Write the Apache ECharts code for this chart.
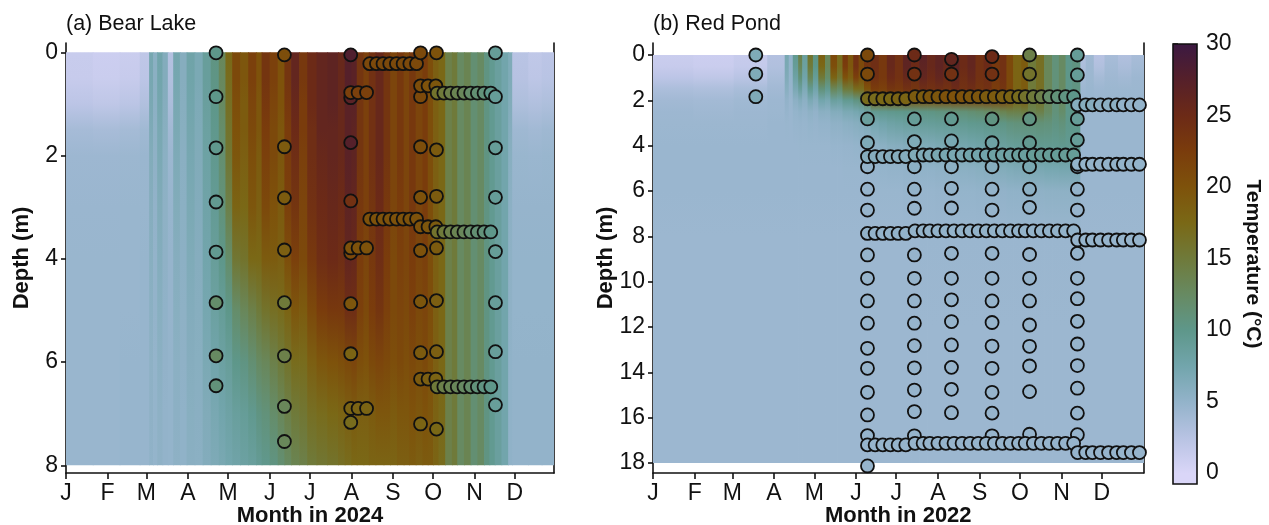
<!DOCTYPE html>
<html><head><meta charset="utf-8">
<script src="https://cdn.jsdelivr.net/npm/echarts@6/dist/echarts.min.js"></script>
<style>html,body{margin:0;padding:0;background:#fff}#c{width:1269px;height:525px}</style>
</head><body><div id="c"></div>
<script>
// ---------- axis / tick data ----------
const monthStartsA = [0,31,60,91,121,152,182,213,244,274,305,335];   // 2024
const monthStartsB = [0,31,59,90,120,151,181,212,243,273,304,334];   // 2022
const monthLetters = ['J','F','M','A','M','J','J','A','S','O','N','D'];
const depthTicksA = [0,2,4,6,8];
const depthTicksB = [0,2,4,6,8,10,12,14,16,18];
const tempTicks = [0,5,10,15,20,25,30];

// ---------- Bear Lake temperature field (columns start day, profile at aDepths) ----------
const aDepths = [0,0.5,1,1.5,2,3,4,5,6,7,8];
const aColDays = [0,20,40,55,62,65,68,72,76,80,85,90,96,102,108,114,119,124,130,136,142,146,152,158,163,168,174,180,187,195,203,208,213,217,222,226,231,237,242,247,252,256,261,266,270,274,278,283,288,292,297,302,307,312,316,320,325,330,333,345,355];
const aProfiles = [
[1.3,1.4,2.2,3.7,4.3,4.5,4.6,4.6,4.6,4.6,4.6],
[1.0,1.2,2.0,3.6,4.3,4.5,4.6,4.6,4.6,4.6,4.6],
[1.2,1.4,2.3,3.8,4.4,4.6,4.6,4.6,4.7,4.7,4.7],
[2.0,2.2,3.0,4.1,4.5,4.6,4.7,4.7,4.7,4.7,4.7],
[7.2,7.1,6.9,6.6,6.3,6.0,5.8,5.6,5.4,5.3,5.2],
[5.6,5.6,5.5,5.4,5.3,5.1,5.0,5.0,4.9,4.9,4.9],
[7.6,7.5,7.3,7.0,6.8,6.4,6.1,5.8,5.6,5.4,5.3],
[6.2,6.2,6.0,5.8,5.6,5.4,5.3,5.2,5.1,5.0,5.0],
[2.8,3.0,3.4,4.0,4.4,4.7,4.8,4.8,4.9,4.9,4.9],
[7.3,7.2,7.0,6.8,6.6,6.3,6.0,5.8,5.6,5.5,5.4],
[6.0,6.0,5.9,5.8,5.7,5.6,5.5,5.4,5.3,5.2,5.2],
[7.8,7.7,7.5,7.3,7.1,6.8,6.5,6.2,6.0,5.8,5.7],
[6.8,6.8,6.6,6.5,6.4,6.2,6.0,5.9,5.8,5.7,5.6],
[8.8,8.7,8.5,8.3,8.1,7.8,7.5,7.2,6.8,6.4,6.2],
[10.5,10.3,10,9.8,9.6,9.2,8.8,8.3,7.6,7.0,6.6],
[13,12.8,12.5,12,11.6,11,10,9,8.2,7.5,7.0],
[17.5,17,16.5,16,15.5,14,12,10,8.8,8,7.4],
[21,21,20.5,20,19.5,18,15.5,12,10,8.6,7.8],
[19.5,19.5,19,19,18.5,17.5,16,13,10.5,9,8.2],
[22,22,21.5,21,20.5,19.5,17.5,14,11.5,9.6,8.6],
[20,20,19.5,19.5,19,18.5,17.5,15,12.5,10.5,9.2],
[23.5,23.5,23,22.5,22,21,19,16,13,11,9.8],
[22,22,21.5,21,21,20,19,16.5,14,12,10.5],
[20,20,20,19.5,19.5,19,18.5,17,15,13,11.5],
[23.5,23.5,23,22.5,22.5,22,20.5,18,16,14,12.5],
[26,26,25.5,25,24.5,23.5,22,19.5,17,15,13.5],
[23,23,22.5,22.5,22,21.5,21,19,17,15.5,14],
[25,25,25,24.5,24.5,24,23,21,18.5,16.5,15],
[26,26,26,26,25.5,25,24.5,22.5,19.5,17,15.5],
[26.5,26.5,26.5,26,26,25.5,25,23,20,17.5,16],
[25.5,25.5,25.5,25.5,25.5,25,24.5,23,20.5,18,16.5],
[27.5,27.5,27,27,27,26.5,26,24.5,21,18.5,17],
[27,27,27,26.5,26.5,26,25.5,24.5,21.5,19,17.5],
[23.5,23.5,23.5,23.5,23.5,23,22.5,22,20.5,18.5,17.5],
[22,22,22,22,22,22,21.5,21,20,18.5,17.5],
[24,24,24,24,24,23.5,23,22.5,21,19,18],
[25.5,25.5,25.5,25.5,25.5,25,24.5,23.5,21.5,19.5,18],
[23.5,23.5,23.5,23.5,23.5,23,22.5,22,21,19.5,18],
[21.5,21.5,21.5,21.5,21.5,21.5,21,21,20.5,19,18],
[23,23,23,23,23,22.5,22,21.5,21,19.5,18.5],
[21.5,21.5,21.5,21.5,21.5,21.5,21.5,21,20.5,19.5,18.5],
[23,23,23,23,23,23,22.5,22,21,20,19],
[21.5,21.5,21.5,21.5,21.5,21.5,21.5,21,20.5,19.5,18.5],
[22.5,22.5,22.5,22.5,22.5,22.5,22,21.5,21,20,19],
[20.5,20.5,20.5,20.5,20.5,20.5,20.5,20.5,20,19.5,19],
[18.5,18.5,18.5,18.5,18.5,18.5,18.5,18.5,18.5,18.2,18],
[17.5,17.5,17.5,17.5,17.5,17.5,17.5,17.5,17.5,17.3,17],
[14,14,14,14,14,14,14,14,14,14,14],
[15,15,15,15,15,15,15,15,15,15,15],
[12.5,12.5,12.5,12.5,12.5,12.5,12.5,12.5,12.5,12.5,12.5],
[13.5,13.5,13.5,13.5,13.5,13.5,13.5,13.5,13.5,13.5,13.5],
[11.5,11.5,11.5,11.5,11.5,11.5,11.5,11.5,11.5,11.5,11.5],
[12.5,12.5,12.5,12.5,12.5,12.5,12.5,12.5,12.5,12.5,12.5],
[10.5,10.5,10.5,10.5,10.5,10.5,10.5,10.5,10.5,10.5,10.5],
[9.5,9.5,9.5,9.5,9.5,9.5,9.5,9.5,9.5,9.5,9.5],
[8.5,8.5,8.5,8.5,8.5,8.5,8.5,8.5,8.5,8.5,8.5],
[7.5,7.5,7.5,7.5,7.5,7.5,7.5,7.5,7.5,7.5,7.5],
[6.5,6.5,6.3,6.0,5.8,5.5,5.4,5.3,5.2,5.2,5.2],
[2.4,2.6,3.2,4.2,4.6,4.8,4.9,4.9,5.0,5.0,5.0],
[1.9,2.1,3.0,4.0,4.5,4.8,4.9,4.9,5.0,5.0,5.0],
[2.2,2.4,3.2,4.2,4.6,4.8,4.9,4.9,5.0,5.0,5.0]
];
const aEndDay = 364.2;

// ---------- Red Pond temperature field ----------
const bDepths = [0,0.5,1,1.5,2,2.5,3,4,5,6,8,12,18];
const bColDays = [0,30,60,85,98,101,104,108,111,115,119,123,128,132,137,141,145,149,153,157,162,168,174,180,186,192,198,204,210,216,222,228,234,240,246,252,258,263,268,274,279,285,291,297,302,307,312,318,322,328,336,346,356];
const bProfiles = [
[1.2,1.4,2.2,3.3,4.0,4.3,4.4,4.5,4.5,4.5,4.4,4.4,4.4],
[1.0,1.2,2.0,3.2,3.9,4.2,4.4,4.5,4.5,4.5,4.4,4.4,4.4],
[1.4,1.6,2.4,3.5,4.1,4.3,4.4,4.5,4.5,4.5,4.4,4.4,4.4],
[2.8,3.0,3.5,4.0,4.3,4.4,4.5,4.5,4.5,4.5,4.4,4.4,4.4],
[7.0,6.8,6.4,5.8,5.1,4.8,4.6,4.5,4.5,4.5,4.4,4.4,4.4],
[5.0,5.0,4.9,4.8,4.6,4.5,4.5,4.5,4.5,4.5,4.4,4.4,4.4],
[9.5,9.0,8.0,6.8,5.5,4.9,4.7,4.5,4.5,4.5,4.4,4.4,4.4],
[14,13,11,8.5,6.2,5.2,4.8,4.6,4.5,4.5,4.4,4.4,4.4],
[8.5,8.3,7.6,6.5,5.5,5.0,4.7,4.6,4.5,4.5,4.4,4.4,4.4],
[16,15,13,9.5,6.8,5.4,4.9,4.6,4.5,4.5,4.4,4.4,4.4],
[10.5,10,9,7.5,6.0,5.1,4.8,4.6,4.5,4.5,4.4,4.4,4.4],
[18.5,17.5,15,11,7.5,5.7,5.0,4.6,4.5,4.5,4.4,4.4,4.4],
[13,13,12,9.5,7,5.6,5.0,4.6,4.5,4.5,4.4,4.4,4.4],
[21,20.5,18,13,8.5,6.2,5.3,4.7,4.5,4.5,4.4,4.4,4.4],
[17,17,15.5,12,8.2,6.2,5.3,4.7,4.5,4.5,4.4,4.4,4.4],
[23,22.5,20,15,9.5,6.8,5.6,4.8,4.6,4.5,4.4,4.4,4.4],
[19.5,19.5,18.5,15,9.5,6.8,5.7,4.8,4.6,4.5,4.4,4.4,4.4],
[24,24,22,17,10.5,7.2,5.9,4.9,4.6,4.5,4.4,4.4,4.4],
[21,21,20,17,11,7.6,6.1,5.0,4.6,4.5,4.4,4.4,4.4],
[23.5,23.5,22.5,20,13,8.2,6.5,5.1,4.7,4.5,4.4,4.4,4.4],
[24.5,24.5,24,22.5,18,9.5,7.2,5.4,4.8,4.6,4.4,4.4,4.4],
[23,23,23,22,18,9.6,7.6,5.6,4.9,4.6,4.4,4.4,4.4],
[25.5,25.5,25,23.5,19,9.8,8.0,5.9,5.0,4.6,4.4,4.4,4.4],
[24,24,24,23,19,9.9,8.2,6.0,5.0,4.6,4.4,4.4,4.4],
[26.5,26.5,25.5,24,19.5,10,8.5,6.2,5.1,4.7,4.4,4.4,4.4],
[25,25,24.5,23.5,19.5,10.1,8.6,6.3,5.1,4.7,4.4,4.4,4.4],
[27,26.5,26,24.5,20,10.3,8.9,6.5,5.2,4.7,4.5,4.4,4.4],
[25.5,25.5,25,24,20,10.4,9.0,6.6,5.2,4.7,4.5,4.4,4.4],
[26.5,26.5,26,24.5,20.5,10.6,9.1,6.8,5.3,4.8,4.5,4.4,4.4],
[25.5,25.5,25,24,20.5,10.7,9.2,7.0,5.4,4.8,4.5,4.4,4.4],
[27,26.5,26,25,21,11,9.4,7.2,5.5,4.8,4.5,4.4,4.4],
[25,25,24.5,24,21,11.2,9.5,7.3,5.6,4.9,4.5,4.4,4.4],
[26,26,25.5,24.5,21,11.5,9.7,7.5,5.7,4.9,4.5,4.4,4.4],
[24,24,24,23.5,21,11.8,9.8,7.7,5.8,5.0,4.5,4.4,4.4],
[25,25,24.5,24,21.5,12.2,10,8.0,6.0,5.0,4.5,4.4,4.4],
[23,23,23,22.5,21,12.8,10.2,8.2,6.2,5.1,4.5,4.4,4.4],
[24,24,24,23.5,21.5,13.5,10.4,8.5,6.3,5.1,4.5,4.4,4.4],
[21,21,21,21,20,14,10.8,8.8,6.5,5.2,4.5,4.4,4.4],
[18,18,18,18,17.5,14,11,9.0,6.7,5.2,4.5,4.4,4.4],
[19,19,19,19,18.5,14.5,11,9.2,6.8,5.3,4.5,4.4,4.4],
[15,15,15,15,15,13.5,11,9.3,7.0,5.3,4.5,4.4,4.4],
[16.5,16.5,16.5,16.5,16,14,11.2,9.5,7.0,5.3,4.5,4.4,4.4],
[13,13,13,13,13,12.5,11,9.5,7.2,5.4,4.5,4.4,4.4],
[11,11,11,11,11,11,10.5,9.5,7.2,5.4,4.5,4.4,4.4],
[12.5,12.5,12.5,12.5,12.5,12,11,9.6,7.3,5.4,4.5,4.4,4.4],
[10,10,10,10,10,10,10,9.5,7.3,5.4,4.5,4.4,4.4],
[10.5,10.5,10.5,10.5,10.5,10.3,10,9.5,7.3,5.4,4.5,4.4,4.4],
[3.0,3.3,3.9,4.3,4.5,4.5,4.5,4.5,4.5,4.5,4.4,4.4,4.4],
[4.2,4.3,4.4,4.5,4.5,4.5,4.5,4.5,4.5,4.5,4.4,4.4,4.4],
[2.6,3.0,3.8,4.3,4.5,4.5,4.5,4.5,4.5,4.5,4.4,4.4,4.4],
[3.6,3.9,4.2,4.4,4.5,4.5,4.5,4.5,4.5,4.5,4.4,4.4,4.4],
[3.0,3.4,4.0,4.4,4.5,4.5,4.5,4.5,4.5,4.5,4.4,4.4,4.4],
[3.6,3.9,4.3,4.4,4.5,4.5,4.5,4.5,4.5,4.5,4.4,4.4,4.4]
];
const bEndDay = 365;

// ---------- sampled points [day, depth, temperature] ----------
const aPoints = [
[112,0.01,10],[112,0.86,10],[112,1.85,9.8],[112,2.9,9.5],[112,3.87,9.5],[112,4.85,12],[112,5.88,12.5],[112,6.46,11],
[163,0.05,20.5],[163,1.83,19],[163,2.82,19],[163,3.83,18.5],[163,4.85,15],[163,5.88,14],[163,6.86,13],[163,7.54,13],
[212.5,0.05,28],[212.5,0.88,27],[212.5,1.75,27.5],[212.5,2.88,24],[212.5,3.89,21],[212.5,4.87,19.5],[212.5,5.84,18],[212.5,7.17,17],
[212.5,0.78,22],[218,0.78,22],[224.3,0.78,22],
[212.5,3.79,20],[218,3.79,20],[224.3,3.79,20],
[212.5,6.9,18],[218,6.9,18],[224.3,6.9,18],
[226.7,0.22,21],[231.7,0.22,21],[236.6,0.22,21],[241.6,0.22,21],[246.6,0.22,21],[251.6,0.22,21],[256.6,0.22,21],[261.6,0.22,21],
[226.7,3.23,20],[231.7,3.23,20],[236.6,3.23,20],[241.6,3.23,20],[246.6,3.23,20],[251.6,3.23,20],[256.6,3.23,20],[261.6,3.23,20],
[264.6,0.01,21],[264.6,0.86,21],[264.6,1.83,20.5],[264.6,2.81,20],[264.6,3.84,20],[264.6,4.83,19.5],[264.6,5.82,19],[264.6,7.2,18],
[264.6,0.65,20.5],[270.2,0.65,20],[276,0.65,19.5],
[264.6,3.38,20],[270.2,3.38,19.5],[276,3.38,19],
[264.6,6.33,19],[270.2,6.33,18.5],[276,6.33,18],
[276.5,0.01,20],[276.5,1.89,19],[276.5,2.79,19],[276.5,3.79,19],[276.5,4.81,18.5],[276.5,5.8,18.5],[276.5,7.3,17.5],
[277,0.79,16],[282,0.79,15],[287,0.79,14],[292,0.79,13.5],[297,0.79,13],[302,0.79,12],[307,0.79,11.5],[312,0.79,11],[317,0.79,10],
[277,3.48,16],[282,3.48,15],[287,3.48,14],[292,3.48,13.5],[297,3.48,13],[302,3.48,12],[307,3.48,11.5],[312,3.48,11],[317,3.48,10],
[277,6.48,15],[282,6.48,14],[287,6.48,13.5],[292,6.48,13],[297,6.48,12.5],[302,6.48,12],[307,6.48,11],[312,6.48,10.5],[317,6.48,10],
[320.5,0.01,9],[320.5,0.86,9],[320.5,1.85,9],[320.5,2.81,9],[320.5,3.86,9],[320.5,4.85,8.8],[320.5,5.8,8.8],[320.5,6.83,8.8]
];
const bPoints = [
[76.5,0,6.5],[76.5,0.84,6.5],[76.5,1.84,6.5],
[159.6,0,21],[159.6,0.84,21],[159.6,2.82,8.5],[159.6,3.87,6.5],[159.6,4.93,5],[159.6,5.92,4.8],[159.6,6.84,4.8],[159.6,8.82,4.8],[159.6,9.85,4.8],[159.6,10.85,4.8],[159.6,11.83,4.8],[159.6,12.94,4.8],[159.6,13.82,4.8],[159.6,14.88,4.8],[159.6,15.88,4.8],[159.6,16.79,4.8],[159.6,18.13,4.8],
[194.5,0,25],[194.5,0.84,24],[194.5,2.82,9],[194.5,3.82,6.5],[194.5,4.93,5.5],[194.5,5.92,5],[194.5,6.76,4.8],[194.5,8.82,4.8],[194.5,9.85,4.8],[194.5,10.85,4.8],[194.5,11.83,4.8],[194.5,12.82,4.8],[194.5,13.8,4.8],[194.5,14.78,4.8],[194.5,15.73,4.8],[194.5,16.8,4.8],
[222.1,0.19,26],[222.1,0.84,24],[222.1,2.82,9.5],[222.1,3.79,7],[222.1,4.93,5.5],[222.1,5.88,5],[222.1,6.75,4.8],[222.1,8.75,4.8],[222.1,9.85,4.8],[222.1,10.8,4.8],[222.1,11.76,4.8],[222.1,12.79,4.8],[222.1,13.78,4.8],[222.1,14.75,4.8],[222.1,15.78,4.8],
[252.3,0.07,25],[252.3,0.84,24],[252.3,2.82,10.5],[252.3,3.87,8],[252.3,4.93,6],[252.3,5.92,5],[252.3,6.84,4.8],[252.3,8.75,4.8],[252.3,9.85,4.8],[252.3,10.85,4.8],[252.3,11.8,4.8],[252.3,12.84,4.8],[252.3,13.82,4.8],[252.3,14.88,4.8],[252.3,15.8,4.8],[252.3,16.8,4.8],
[280.2,0,14],[280.2,0.84,16],[280.2,2.82,10.5],[280.2,3.87,9.5],[280.2,4.93,7],[280.2,5.92,5.5],[280.2,6.72,5],[280.2,8.8,4.8],[280.2,9.85,4.8],[280.2,10.85,4.8],[280.2,11.91,4.8],[280.2,12.85,4.8],[280.2,13.72,4.8],[280.2,14.85,4.8],[280.2,16.73,4.8],
[315.8,0,9],[315.8,0.88,9],[315.8,2.82,9],[315.8,3.75,9],[315.8,4.93,6],[315.8,5.92,5],[315.8,6.84,4.8],[315.8,8.75,4.8],[315.8,9.85,4.8],[315.8,10.75,4.8],[315.8,11.75,4.8],[315.8,12.75,4.8],[315.8,13.7,4.8],[315.8,14.7,4.8],[315.8,15.8,4.8],[315.8,16.75,4.8]
];
// logger rows: day lists and depth/temperature per row
const bLogDays1 = [159.6,165.3,171,176.7,182.4,188.1];
const bLogDays2 = [195,201,206,212,218,224,230,236,242,248,254,260,266,272,277,283,289,295,301,307,313];
const bLogDays3 = [316,322,327,333,339,345,350,356,362];
const bLogDepth1 = [1.93,4.48,7.87,17.2];
const bLogDepth2 = [1.84,4.41,7.76,17.13];
const bLogDepth3 = [2.2,4.82,8.16,17.54];
const bLogTemp1 = [[17,17,17.5,17.5,18,18],[6,6,6,6,6,6],[5,5,5,5,5,5],[4.8,4.8,4.8,4.8,4.8,4.8]];
const bLogTemp2 = [
[19,19,19.5,19.5,20,20,20,19.5,19.5,19,19,18.5,18,17,16,15,14,12,11,10.5,10],
[6.5,6.5,6.5,7,7,7,7,7.5,7.5,7.5,8,8,8,8.5,8.5,9,9,9,9,9,9],
[5,5,5,5,5,5,5,5,5,5,5,5,5,5,5,5,5,5,5,5,5],
[4.8,4.8,4.8,4.8,4.8,4.8,4.8,4.8,4.8,4.8,4.8,4.8,4.8,4.8,4.8,4.8,4.8,4.8,4.8,4.8,4.8]];
const bLogTemp3 = [[6,6,6,5.5,5.5,5.5,5,5,5],[5,5,5,5,5,5,5,5,5],[4.8,4.8,4.8,4.8,4.8,4.8,4.8,4.8,4.8],[4.8,4.8,4.8,4.8,4.8,4.8,4.8,4.8,4.8]];

// ---------- colour scale ----------
const cmapTemps = [0,2.5,5,7.5,10,12.5,15,17.5,20,22.5,25,27.5,30];
const cmapColors = ['#dad6f8','#b8c3e3','#93b3ca','#72a5ac','#5e978a','#678a62','#6f7a3a','#7a6816','#7e520b','#7a3c0c','#6c2a17','#55202a','#3b1942'];
const cmapRGB = cmapColors.map(h=>[parseInt(h.slice(1,3),16),parseInt(h.slice(3,5),16),parseInt(h.slice(5,7),16)]);
function colorFor(t){
  if (t <= cmapTemps[0]) return cmapColors[0];
  if (t >= cmapTemps[cmapTemps.length-1]) return cmapColors[cmapColors.length-1];
  let k = 0; while (t > cmapTemps[k+1]) k++;
  const f = (t-cmapTemps[k])/(cmapTemps[k+1]-cmapTemps[k]);
  const a = cmapRGB[k], b = cmapRGB[k+1];
  return 'rgb(' + [0,1,2].map(j=>Math.round(a[j]+(b[j]-a[j])*f)).join(',') + ')';
}

// build logger point rows
function loggerRows(days, depths, temps){
  const out = [];
  depths.forEach((d,r)=>days.forEach((day,i)=>out.push([day,d,temps[r][i]])));
  return out;
}
const bAllPoints = bPoints.concat(loggerRows(bLogDays1,bLogDepth1,bLogTemp1), loggerRows(bLogDays2,bLogDepth2,bLogTemp2), loggerRows(bLogDays3,bLogDepth3,bLogTemp3));

const FONT = 'Liberation Sans, Arial, sans-serif';
const ink = '#111';

function heatSeries(days, endDay, depths, profiles, xi, yi){
  const maxD = depths[depths.length-1];
  const data = days.map((d,i)=>[d, i+1<days.length?days[i+1]:endDay, i]);
  return {
    type:'custom', xAxisIndex:xi, yAxisIndex:yi, data, clip:true, silent:true, z:1,
    encode:{x:[0,1]},
    renderItem:function(params, api){
      const i = api.value(2);
      const p0 = api.coord([api.value(0), 0]);
      const p1 = api.coord([api.value(1), maxD]);
      const stops = depths.map((dd,k)=>({offset: dd/maxD, color: colorFor(profiles[i][k])}));
      return {type:'rect', shape:{x:p0[0], y:p0[1], width:p1[0]-p0[0]+0.8, height:p1[1]-p0[1]},
        style:{fill:new echarts.graphic.LinearGradient(0,0,0,1,stops)}};
    }
  };
}
function pointSeries(pts, xi, yi){
  return {type:'scatter', xAxisIndex:xi, yAxisIndex:yi, data:pts, symbol:'circle', symbolSize:13, z:5, silent:true,
    itemStyle:{color:p=>colorFor(p.value[2]), borderColor:ink, borderWidth:1.8, opacity:1}};
}
function monthAxis(gi, starts, maxDay, name){
  return {type:'value', gridIndex:gi, min:0, max:maxDay, name:name, nameLocation:'middle', nameGap:32, nameMoveOverlap:false,
    nameTextStyle:{fontFamily:FONT, fontSize:22, fontWeight:'bold', color:ink},
    axisLine:{show:true, onZero:false, lineStyle:{color:ink, width:1.6}},
    axisTick:{show:true, length:6, customValues:starts, lineStyle:{color:ink, width:1.6}},
    axisLabel:{customValues:starts, margin:9, fontFamily:FONT, fontSize:23, color:ink,
      formatter:v=>monthLetters[starts.indexOf(v)] || ''},
    splitLine:{show:false}};
}
function depthAxis(gi, ticks, mn, mx, gap){
  return {type:'value', gridIndex:gi, inverse:true, min:mn, max:mx, position:'left',
    name:'Depth (m)', nameLocation:'middle', nameGap:gap, nameRotate:90, nameMoveOverlap:false,
    nameTextStyle:{fontFamily:FONT, fontSize:22, fontWeight:'bold', color:ink},
    axisLine:{show:true, onZero:false, lineStyle:{color:ink, width:1.6}},
    axisTick:{show:true, length:5, customValues:ticks, lineStyle:{color:ink, width:1.6}},
    axisLabel:{customValues:ticks, margin:8, fontFamily:FONT, fontSize:23, color:ink},
    splitLine:{show:false}};
}
function borderAxis(gi, mn, mx){
  return {type:'value', gridIndex:gi, inverse:true, min:mn, max:mx, position:'right',
    axisLine:{show:true, onZero:false, lineStyle:{color:ink, width:1.6}},
    axisTick:{show:false}, axisLabel:{show:false}, splitLine:{show:false}};
}

const chart = echarts.init(document.getElementById('c'), null, {renderer:'canvas'});
chart.setOption({
  animation:false,
  backgroundColor:'#fff',
  title:[
    {text:'(a) Bear Lake', left:61, top:8, textStyle:{fontFamily:FONT, fontSize:21.5, fontWeight:'normal', color:ink}},
    {text:'(b) Red Pond', left:648, top:8, textStyle:{fontFamily:FONT, fontSize:21.5, fontWeight:'normal', color:ink}}
  ],
  grid:[
    {left:66, top:43, width:488, height:430, outerBoundsMode:'none', containLabel:false},
    {left:653, top:43, width:490.5, height:430, outerBoundsMode:'none', containLabel:false},
    {left:1173, top:44, width:24, height:440, outerBoundsMode:'none', containLabel:false}
  ],
  xAxis:[
    monthAxis(0, monthStartsA, aEndDay, 'Month in 2024'),
    monthAxis(1, monthStartsB, bEndDay, 'Month in 2022'),
    {type:'value', gridIndex:2, min:0, max:1, show:false}
  ],
  yAxis:[
    depthAxis(0, depthTicksA, -0.18, 8.15, 33),
    borderAxis(0, -0.18, 8.15),
    depthAxis(1, depthTicksB, -0.53, 18.44, 36),
    borderAxis(1, -0.53, 18.44),
    {type:'value', gridIndex:2, min:-0.77, max:30, position:'right',
      name:'Temperature (°C)', nameLocation:'middle', nameGap:45, nameRotate:-90,
      nameTextStyle:{fontFamily:FONT, fontSize:21, fontWeight:'bold', color:ink},
      axisLine:{show:false},
      axisTick:{show:true, length:5, customValues:tempTicks, lineStyle:{color:ink, width:1.5}},
      axisLabel:{customValues:tempTicks, margin:9, fontFamily:FONT, fontSize:23, color:ink},
      splitLine:{show:false}}
  ],
  series:[
    heatSeries(aColDays, aEndDay, aDepths, aProfiles, 0, 0),
    pointSeries(aPoints, 0, 0),
    heatSeries(bColDays, bEndDay, bDepths, bProfiles, 1, 2),
    pointSeries(bAllPoints, 1, 2),
    {type:'custom', xAxisIndex:2, yAxisIndex:4, data:[[0,0]], silent:true, z:2,
      renderItem:function(params, api){
        const p0 = api.coord([0, 30]);
        const p1 = api.coord([1, -0.77]);
        const span = 30.77;
        const stops = cmapTemps.map((t,k)=>({offset:(30-t)/span, color:cmapColors[k]}));
        stops.push({offset:1, color:cmapColors[0]});
        return {type:'rect', shape:{x:p0[0], y:p0[1], width:p1[0]-p0[0], height:p1[1]-p0[1]},
          style:{fill:new echarts.graphic.LinearGradient(0,0,0,1,stops), stroke:ink, lineWidth:1.6}};
      }}
  ]
});
</script>
</body></html>
